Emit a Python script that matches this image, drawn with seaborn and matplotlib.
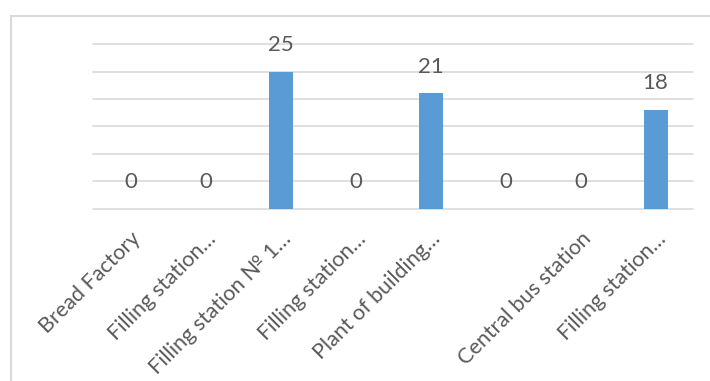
import matplotlib
matplotlib.use("Agg")
import matplotlib.pyplot as plt
import seaborn as sns
import pandas as pd
from matplotlib.patches import Rectangle

categories = ["Bread Factory", "Filling station…", "Filling station № 1…",
              "Filling station…", "Plant of building…", "",
              "Central bus station", "Filling station…"]
values = [0, 0, 25, 0, 21, 0, 0, 18]
yticks = [0, 5, 10, 15, 20, 25, 30]

sns.set_theme(style="white")
plt.rcParams['font.family'] = ['Lato', 'DejaVu Sans']

df = pd.DataFrame({"pos": list(range(len(categories))), "value": values})

fig = plt.figure(figsize=(7.1, 3.81), dpi=100)
fig.patch.set_facecolor("white")
ax = fig.add_axes([93/710, 1-209/381, 600/710, 165/381])

sns.barplot(data=df, x="pos", y="value", color="#5b9bd5", saturation=1,
            width=0.32, ax=ax, zorder=3, linewidth=0)

ax.set_ylim(0, 30)
ax.set_yticks(yticks)
ax.yaxis.grid(True, color="#d9d9d9", linewidth=1.2, zorder=0)
for gl in ax.yaxis.get_gridlines():
    gl.set_clip_on(False)
ax.set_axisbelow(True)
ax.tick_params(axis="y", left=False, labelleft=False)
ax.tick_params(axis="x", bottom=False, pad=8)
for s in ax.spines.values():
    s.set_visible(False)
ax.set_xlim(-0.5, len(categories) - 0.5)
ax.set_xticks(range(len(categories)))
ax.set_xticklabels(categories, rotation=45, ha="right", va="top",
                   rotation_mode="anchor", fontsize=15.5, color="#595959")
ax.set_xlabel("")
ax.set_ylabel("")

for i, v in enumerate(values):
    ax.annotate(str(v), (i, v), xytext=(0, 12), textcoords="offset points",
                ha="center", va="bottom", fontsize=16, color="#595959")

fig.patches.append(Rectangle((11/710, -0.1), 1.2, 1.1 - 16/381,
                             transform=fig.transFigure, fill=False,
                             edgecolor="#d9d9d9", linewidth=1.5))

fig.savefig("out.png", dpi=100)
